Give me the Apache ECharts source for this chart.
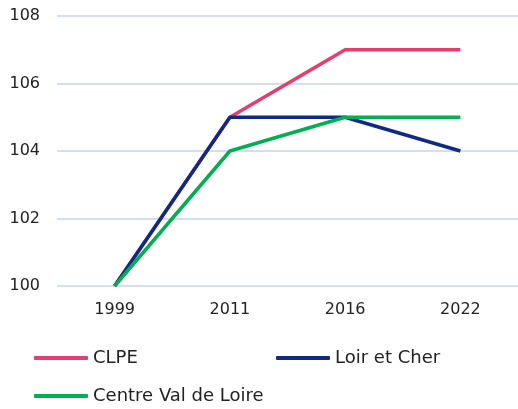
<!DOCTYPE html>
<html><head><meta charset="utf-8">
<script src="https://cdn.jsdelivr.net/npm/echarts@6/dist/echarts.min.js"></script>
<style>html,body{margin:0;padding:0;background:#fff}#c{width:518px;height:409px}</style>
</head><body><div id="c"></div>
<script>
var categories = ['1999', '2011', '2016', '2022'];
var clpe = [100, 105, 107, 107];
var loirEtCher = [100, 105, 105, 104];
var centreVdl = [100, 104, 105, 105];
var seriesNames = ['CLPE', 'Loir et Cher', 'Centre Val de Loire'];
var colors = ['#e63d6f', '#0e2a84', '#00b050'];
var font = 'DejaVu Sans';
var chart = echarts.init(document.getElementById('c'), null, {renderer: 'canvas'});
function mkLegend(name, left, top) {
  return {data: [name], left: left, top: top, padding: 0, icon: 'roundRect', itemWidth: 54, itemHeight: 4, itemGap: 0,
    textStyle: {fontFamily: font, fontSize: 18, color: '#222'}};
}
chart.setOption({
  animation: false,
  color: colors,
  grid: {left: 57, right: 0, top: 16, bottom: 123},
  legend: [mkLegend(seriesNames[0], 34, 349), mkLegend(seriesNames[1], 276, 349), mkLegend(seriesNames[2], 34, 387)],
  xAxis: {type: 'category', data: categories, boundaryGap: true,
    axisLine: {show: false}, axisTick: {show: false},
    axisLabel: {fontFamily: font, fontSize: 16, color: '#222', margin: 16}},
  yAxis: {type: 'value', min: 100, max: 108, interval: 2,
    axisLine: {show: false}, axisTick: {show: false},
    splitLine: {lineStyle: {color: '#d4ddf5', width: 2}},
    axisLabel: {fontFamily: font, fontSize: 16, color: '#222', margin: 17}},
  series: [
    {name: seriesNames[0], type: 'line', data: clpe, symbol: 'none', lineStyle: {width: 3.5, color: colors[0]}},
    {name: seriesNames[1], type: 'line', data: loirEtCher, symbol: 'none', lineStyle: {width: 3.5, color: colors[1]}},
    {name: seriesNames[2], type: 'line', data: centreVdl, symbol: 'none', lineStyle: {width: 3.5, color: colors[2]}}
  ]
});
</script></body></html>
